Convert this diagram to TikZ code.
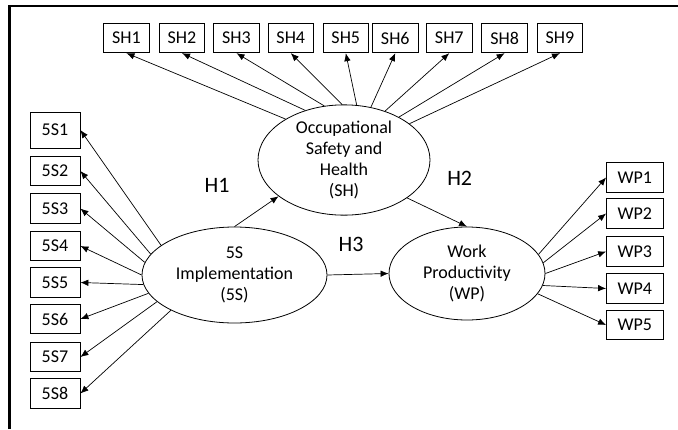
\documentclass[tikz,border=0pt]{standalone}
\usepackage{fontspec}
\setmainfont{Carlito}
\usetikzlibrary{shapes.geometric,arrows.meta}
\tikzset{
  ind/.style={draw, line width=0.8pt, inner sep=0pt, minimum height=29.5pt, font=\fontsize{18}{20}\selectfont},
  shbox/.style={ind, minimum width=45.5pt},
  ssbox/.style={ind, minimum width=50pt},
  wpbox/.style={ind, minimum width=56.5pt},
  latent/.style={draw, ellipse, line width=0.8pt, inner sep=0pt, align=center, font=\fontsize{18}{21}\selectfont},
  arr/.style={line width=0.7pt, -{Latex[length=8pt,width=6.5pt]}},
  hlab/.style={font=\fontsize{22}{24}\selectfont, inner sep=0pt}
}
\begin{document}
\begin{tikzpicture}[x=1pt,y=-1pt]
\useasboundingbox (0,0) rectangle (678,429);
\draw[line width=2.5pt] (9.7,429) -- (9.7,6.2) -- (678,6.2);
% latent variables
\node[latent, minimum width=172pt, minimum height=96pt] (sh) at (344,160) {Occupational\\Safety and\\Health\\(SH)};
\node[latent, minimum width=185pt, minimum height=96pt] (ss) at (234.5,275) {5S\\Implementation\\(5S)};
\node[latent, minimum width=156pt, minimum height=93pt] (wp) at (467,273.5) {Work\\Productivity\\(WP)};
% SH indicators
\node[shbox] (sh1) at (126.5,38) {SH1};
\node[shbox] (sh2) at (182,38) {SH2};
\node[shbox] (sh3) at (236.5,38) {SH3};
\node[shbox] (sh4) at (290.8,38) {SH4};
\node[shbox] (sh5) at (345.8,38) {SH5};
\node[shbox] (sh6) at (395.3,38) {SH6};
\node[shbox] (sh7) at (449.3,38) {SH7};
\node[shbox] (sh8) at (504.6,38) {SH8};
\node[shbox] (sh9) at (560,38) {SH9};
% 5S indicators
\node[ssbox, minimum height=36pt] (s1) at (55,130) {5S1};
\node[ssbox] (s2) at (55,171) {5S2};
\node[ssbox] (s3) at (55,208.5) {5S3};
\node[ssbox] (s4) at (55,246) {5S4};
\node[ssbox] (s5) at (55,282.5) {5S5};
\node[ssbox] (s6) at (55,319) {5S6};
\node[ssbox] (s7) at (55,357) {5S7};
\node[ssbox] (s8) at (55,393.5) {5S8};
% WP indicators
\node[wpbox] (w1) at (634.75,177.5) {WP1};
\node[wpbox] (w2) at (634.75,213.5) {WP2};
\node[wpbox] (w3) at (634.75,251.5) {WP3};
\node[wpbox] (w4) at (634.75,288.5) {WP4};
\node[wpbox] (w5) at (634.75,325) {WP5};
% SH arrows
\draw[arr] (sh.145.6) -- (sh1.south);
\draw[arr] (sh.128.6) -- (sh2.south);
\draw[arr] (sh.110.4) -- (sh3.south);
\draw[arr] (sh.92.9) -- (sh4.south);
\draw[arr] (sh.77.4) -- (sh5.south);
\draw[arr] (sh.63) -- (sh6.south);
\draw[arr] (sh.50) -- (sh7.south);
\draw[arr] (sh.38.4) -- (sh8.south);
\draw[arr] (sh.29.6) -- (sh9.south);
% 5S arrows
\draw[arr] (ss.158.3) -- (s1.east);
\draw[arr] (ss.166.8) -- (s2.east);
\draw[arr] (ss.172.4) -- (s3.east);
\draw[arr] (ss.180) -- (s4.east);
\draw[arr] (ss.186.2) -- (s5.east);
\draw[arr] (ss.192.9) -- (s6.east);
\draw[arr] (ss.199.8) -- (s7.east);
\draw[arr] (ss.209.1) -- (s8.east);
% WP arrows
\draw[arr] (wp.15.4) -- (w1.west);
\draw[arr] (wp.8.6) -- (w2.west);
\draw[arr] (wp.0.4) -- (w3.west);
\draw[arr] (wp.-9.2) -- (w4.west);
\draw[arr] (wp.-16.8) -- (w5.west);
% structural paths
\draw[arr] (ss.north) -- (sh.209.4);
\draw[arr] (sh.329.5) -- (wp.north);
\draw[arr] (ss.east) -- (wp.west);
\node[hlab] (h1) at (217,185.5) {H1};
\node[hlab] (h2) at (459.7,178.3) {H2};
\node[hlab] (h3) at (351,244.7) {H3};
\end{tikzpicture}
\end{document}
